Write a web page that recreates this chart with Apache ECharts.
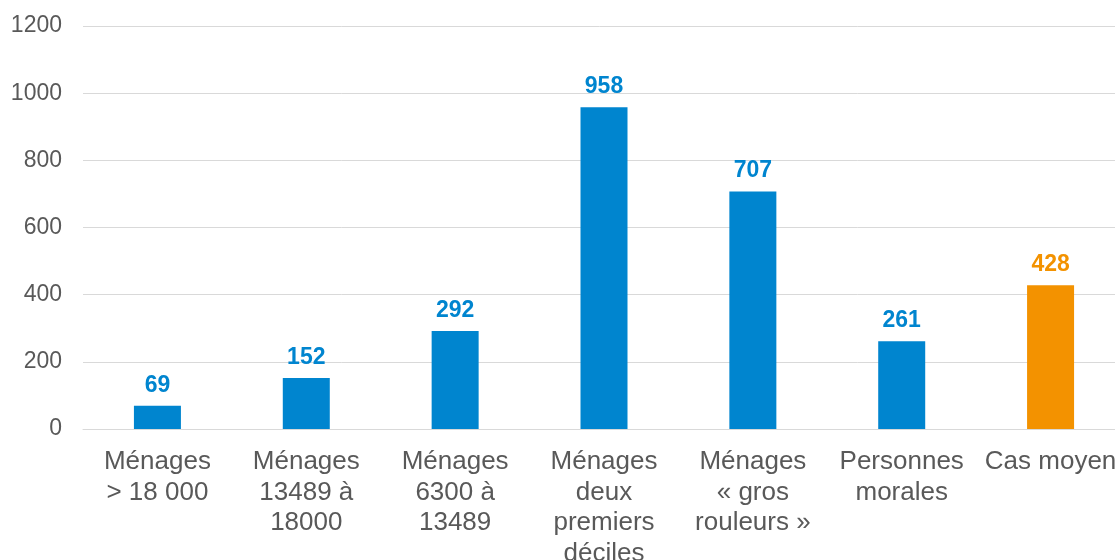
<!DOCTYPE html>
<html>
<head>
<meta charset="utf-8">
<script src="https://cdn.jsdelivr.net/npm/echarts@6/dist/echarts.min.js"></script>
<style>
html,body{margin:0;padding:0;background:#fff;}
#chart{width:1115px;height:560px;}
</style>
</head>
<body>
<div id="chart"></div>
<script>
const categories = [
  "Ménages\n> 18 000",
  "Ménages\n13489 à\n18000",
  "Ménages\n6300 à\n13489",
  "Ménages\ndeux\npremiers\ndéciles",
  "Ménages\n« gros\nrouleurs »",
  "Personnes\nmorales",
  "Cas moyen"
];
const values = [69, 152, 292, 958, 707, 261, 428];
const highlightIndex = 6;
const yTicks = { min: 0, max: 1200, interval: 200 };

const BLUE = '#0085CF';
const ORANGE = '#F39200';
const FONT = "'Liberation Sans', Arial, sans-serif";

const chart = echarts.init(document.getElementById('chart'), null, { renderer: 'canvas' });
chart.setOption({
  animation: false,
  backgroundColor: '#ffffff',
  grid: { left: 83, top: 26, width: 1042, height: 403, containLabel: false, outerBoundsMode: 'none' },
  xAxis: {
    type: 'category',
    data: categories,
    axisLine: { lineStyle: { color: '#D9D9D9', width: 1 } },
    axisTick: { show: false },
    axisLabel: {
      interval: 0,
      color: '#595959',
      fontFamily: FONT,
      fontSize: 26,
      lineHeight: 30.5,
      margin: 18
    }
  },
  yAxis: {
    type: 'value',
    min: yTicks.min, max: yTicks.max, interval: yTicks.interval,
    axisLine: { show: false },
    axisTick: { show: false },
    splitLine: { lineStyle: { color: '#D9D9D9', width: 1 } },
    axisLabel: {
      color: '#595959',
      fontFamily: FONT,
      fontSize: 23,
      margin: 21,
      formatter: v => String(v)
    }
  },
  series: [{
    type: 'bar',
    barWidth: 47,
    data: values.map((v, i) => ({
      value: v,
      itemStyle: { color: i === highlightIndex ? ORANGE : BLUE },
      label: { color: i === highlightIndex ? ORANGE : BLUE }
    })),
    label: {
      show: true,
      position: 'top',
      distance: 9,
      fontFamily: FONT,
      fontWeight: 'bold',
      fontSize: 23
    }
  }]
});
</script>
</body>
</html>
